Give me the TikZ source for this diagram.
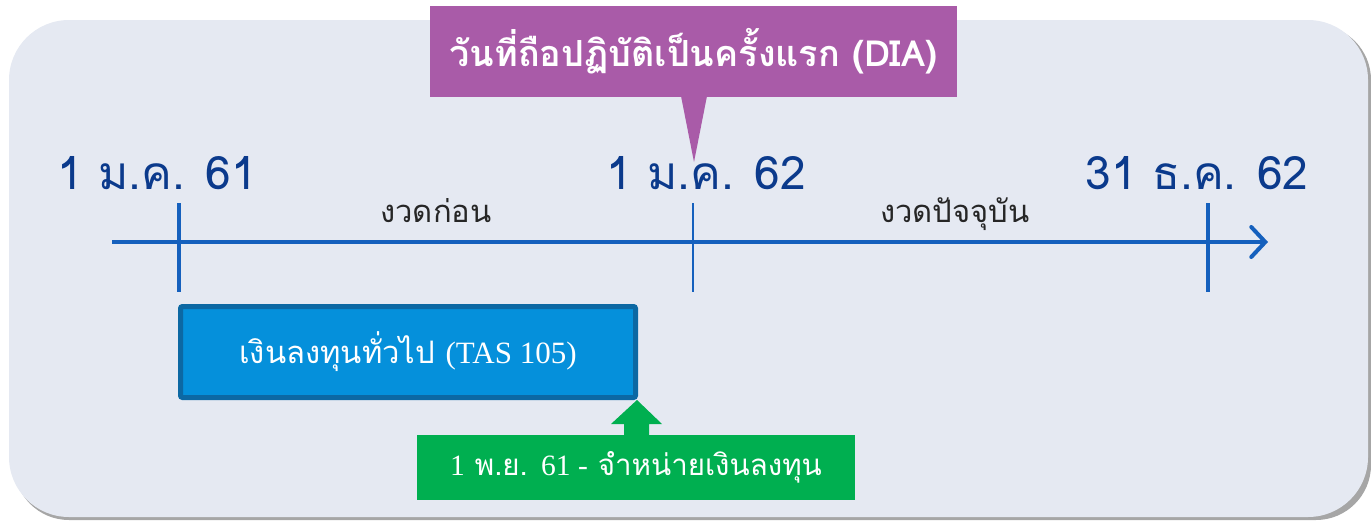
\documentclass[tikz,border=0pt]{standalone}
\usepackage{fontspec}
\newfontfamily\thai[Script=Thai]{Loma}
\newfontfamily\latinserif{Liberation Serif}
\usetikzlibrary{arrows.meta}
\definecolor{bgcol}{HTML}{E5E9F2}
\definecolor{purplecol}{HTML}{A95BA8}
\definecolor{linecol}{HTML}{1560BD}
\definecolor{datecol}{HTML}{0B3A8C}
\definecolor{boxfill}{HTML}{0590DB}
\definecolor{boxdraw}{HTML}{0C68A3}
\definecolor{greencol}{HTML}{00AF50}
\tikzset{
  datelbl/.style={text=datecol, font=\thai\fontsize{46}{54}\selectfont, inner sep=0pt, anchor=base},
  periodlbl/.style={text=black!85, font=\thai\fontsize{31}{38}\selectfont, inner sep=0pt, anchor=base},
  tickline/.style={draw=linecol, line width=4pt},
}
\begin{document}
\begin{tikzpicture}[x=1pt,y=-1pt]
\useasboundingbox (0,0) rectangle (1371,520);
% background panel with shadow
\fill[black!35, rounded corners=55pt] (14,25) rectangle (1371,520);
\fill[bgcol, rounded corners=60pt] (9,20) rectangle (1368,517);
% timeline
\coordinate (tlstart) at (112,242);
\coordinate (tlend) at (1268,242);
\draw[draw=linecol, line width=4pt, -{Straight Barb[length=14pt,width=30pt,line cap=round,line width=4pt]}] (tlstart) -- (tlend);
\coordinate (t1a) at (179,203); \coordinate (t1b) at (179,292);
\coordinate (t2a) at (693,203); \coordinate (t2b) at (693,292);
\coordinate (t3a) at (1208,203); \coordinate (t3b) at (1208,292);
\draw[tickline] (t1a) -- (t1b);
\draw[tickline, line width=2.2pt] (t2a) -- (t2b);
\draw[tickline, line width=4.5pt] (t3a) -- (t3b);
% date labels
\node[datelbl] (d1) at (157,189) {1 ม.ค. 61};
\node[datelbl] (d2) at (706,189) {1 ม.ค. 62};
\node[datelbl] (d3) at (1197,189) {31 ธ.ค. 62};
% period labels
\node[periodlbl] (p1) at (436,222) {งวดก่อน};
\node[periodlbl] (p2) at (955,222) {งวดปัจจุบัน};
% purple callout
\coordinate (ptip) at (694,162);
\fill[purplecol] (681,96) -- (ptip) -- (707,96) -- cycle;
\node[fill=purplecol, minimum width=527pt, minimum height=91pt, inner sep=0pt,
      text=white, font=\thai\bfseries\fontsize{36}{44}\selectfont] (dia) at (693.5,51.5)
      {วันที่ถือปฏิบัติเป็นครั้งแรก (DIA)};
% blue box
\node[fill=boxfill, draw=boxdraw, line width=5pt, rounded corners=2pt,
      minimum width=455pt, minimum height=91pt, inner sep=0pt,
      text=white, font=\thai\fontsize{31}{38}\selectfont] (tas) at (408,352)
      {เงินลงทุนทั่วไป {\latinserif (TAS 105)}};
% green box
\node[fill=greencol, minimum width=438pt, minimum height=65pt, inner sep=0pt,
      text=white, font=\thai\fontsize{29.5}{36}\selectfont] (sale) at (636,467.5)
      {{\latinserif 1} พ.ย. {\latinserif 61 -} จำหน่ายเงินลงทุน};
% green up arrow
\fill[greencol] (624,436) -- (624,424) -- (611,424) -- (637,400) -- (662,424) -- (649,424) -- (649,436) -- cycle;
\end{tikzpicture}
\end{document}
